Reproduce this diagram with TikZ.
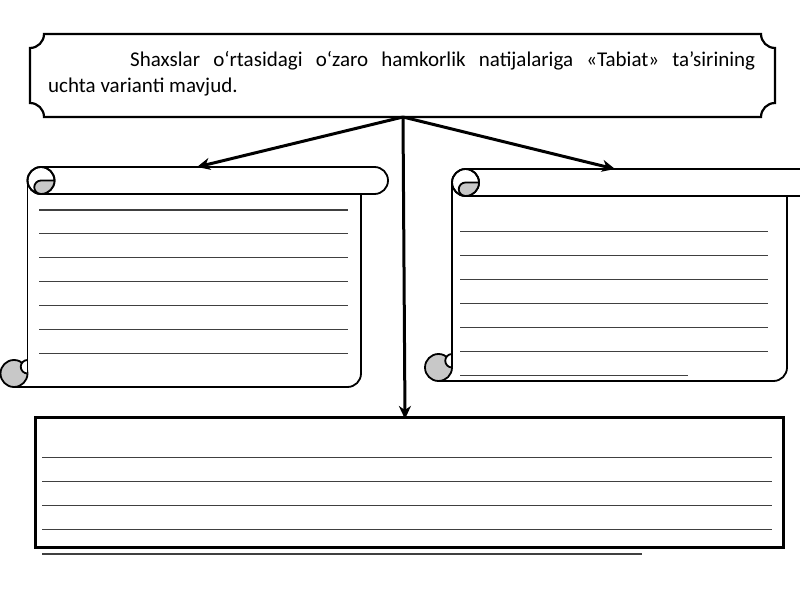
\documentclass[tikz,border=0pt]{standalone}
\usepackage{fontspec}
\setmainfont{Carlito}
\usetikzlibrary{arrows.meta}
\definecolor{rulegray}{HTML}{404040}
\definecolor{curlgray}{HTML}{C8C8C8}
\tikzset{
  outline/.style={draw=black, line width=1.8pt, line join=round},
  ruleline/.style={draw=rulegray, line width=1.4pt},
  conn/.style={line width=3pt, -{Stealth[length=13pt,width=12pt,inset=4pt]}},
  plaque/.style={draw=black, line width=2.2pt, fill=white},
  answerbox/.style={draw=black, line width=2.6pt, fill=white},
  titletext/.style={anchor=base west, inner sep=0pt, font=\fontsize{21}{26}\selectfont},
}
\newcommand\myscroll[5]{% L R T B ch
  \pgfmathsetmacro\sL{#1}%
  \pgfmathsetmacro\sR{#2}%
  \pgfmathsetmacro\sT{#3}%
  \pgfmathsetmacro\sB{#4}%
  \pgfmathsetmacro\sh{#5/2}%
  \pgfmathsetmacro\sq{#5/4}%
  \pgfmathsetmacro\sbl{#1+#5}%
  \pgfmathsetmacro\sbr{#2-#5}%
  \pgfmathsetmacro\scx{#1+1.5*#5}%
  \pgfmathsetmacro\scy{#3-#5/2}%
  \pgfmathsetmacro\srt{#3-#5}%
  \pgfmathsetmacro\sbx{#1+#5/2}%
  \pgfmathsetmacro\sby{#4+#5/2}%
  \fill[white] (\sbl,\srt) rectangle (\sbr,\sB);
  % bottom curl
  \draw[outline, fill=curlgray] (\sbx,\sby) circle[radius=\sh pt];
  \draw[outline, fill=white] (\sbl,\sby+\sh) arc[start angle=90,end angle=270,radius=\sq pt];
  % body
  \draw[outline] (\sbl,\scy) -- (\sbl,\sby);
  \draw[outline] (\sbx,\sB) -- (\sbr-\sh,\sB) arc[start angle=-90,end angle=0,radius=\sh pt] -- (\sbr,\srt);
  % top roll
  \draw[outline, fill=white] (\scx,\sT) -- (\sR-\sh,\sT) arc[start angle=90,end angle=-90,radius=\sh pt] -- (\scx,\srt);
  % top curl
  \draw[outline, fill=white] (\scx,\scy) circle[radius=\sh pt];
  \fill[curlgray] (\scx+\sh,\scy) arc[start angle=0,end angle=-90,radius=\sh pt] arc[start angle=-90,end angle=-270,radius=\sq pt] -- cycle;
  \draw[outline] (\scx,\srt) arc[start angle=-90,end angle=-270,radius=\sq pt] -- (\scx+\sh,\scy);
  \draw[outline] (\scx,\scy) circle[radius=\sh pt];
}
\begin{document}
\begin{tikzpicture}[x=1pt,y=1pt]
\useasboundingbox (0,0) rectangle (800,600);
\clip (0,0) rectangle (800,600);
\fill[white] (0,0) rectangle (800,600);

% title plaque
\draw[plaque] (30,497) -- (30,552) arc[start angle=-90,end angle=0,radius=14pt]
  -- (761,566) arc[start angle=180,end angle=270,radius=14pt]
  -- (775,497) arc[start angle=90,end angle=180,radius=14pt]
  -- (44,483) arc[start angle=0,end angle=90,radius=14pt] -- cycle;
\node[titletext] (titleA) at (130,533.3) {\makebox[625pt][s]{Shaxslar o‘rtasidagi o‘zaro hamkorlik natijalariga «Tabiat» ta’sirining}};
\node[titletext] (titleB) at (48,507.3) {uchta varianti mavjud.};

% scrolls
\myscroll{0.5}{388}{433}{213}{27}
\myscroll{425}{814}{431}{219}{27}

% ruled lines in left scroll
\foreach \yy in {390,366.7,342.7,318.3,294.3,270.3,246.3}
  \draw[ruleline] (39,\yy) -- (348,\yy);
% ruled lines in right scroll
\foreach \yy in {368.3,344.3,320.3,296.3,272.3,248.3}
  \draw[ruleline] (460,\yy) -- (768,\yy);
\draw[ruleline] (460,224.3) -- (688,224.3);

% answer box
\node[answerbox, anchor=south west, minimum width=748pt, minimum height=130pt, inner sep=0pt] (answer) at (34,51) {};
\foreach \yy in {142.3,118.3,94.3,70.3}
  \draw[ruleline] (42,\yy) -- (772,\yy);
\draw[ruleline] (42,46) -- (642,46);

% connectors
\coordinate (src) at (403,483);
\coordinate (lefttop) at (197,433);
\coordinate (righttop) at (615,431);
\coordinate (boxtop) at (405,181);
\draw[conn] (src) -- (lefttop);
\draw[conn] (src) -- (righttop);
\draw[conn] (src) -- (boxtop);
\end{tikzpicture}
\end{document}
